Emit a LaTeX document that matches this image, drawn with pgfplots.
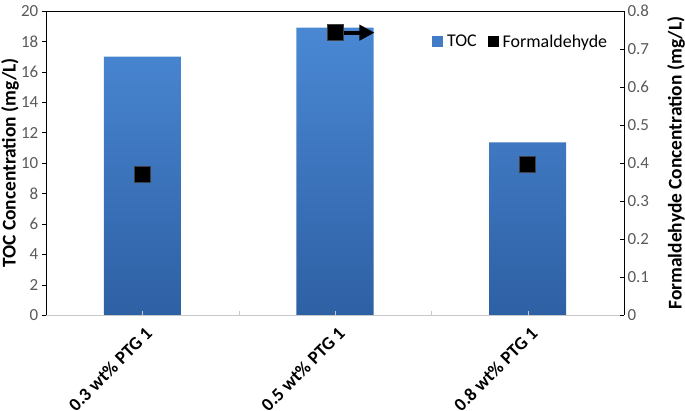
\documentclass[border=0pt]{standalone}
\usepackage{fontspec}
\setmainfont{Carlito}
\usepackage{pgfplots}
\usepackage{pgfplotstable}
\pgfplotsset{compat=1.18}
\usetikzlibrary{arrows.meta}

\definecolor{tickgray}{RGB}{89,89,89}
\definecolor{bartop}{RGB}{74,136,212}
\definecolor{barbot}{RGB}{46,96,164}
\definecolor{gridgray}{RGB}{200,200,200}

% x: category index, toc in mg/L (left axis), form in mg/L (right axis)
\pgfplotstableread{
x toc form
0 17.0 0.371
1 18.9 0.743
2 11.35 0.395
}\datatable

\begin{document}
\begin{tikzpicture}
\pgfplotsset{
  base/.style={
    scale only axis, width=578bp, height=304bp,
    xmin=-0.5, xmax=2.5,
    /pgf/number format/assume math mode=true,
    ticklabel style={font=\fontsize{17}{19}\selectfont, text=tickgray},
    label style={font=\bfseries\fontsize{19.5}{22}\selectfont},
  }
}
\useasboundingbox (-46bp,-96bp) rectangle (639bp,315bp);

\begin{axis}[base,
  axis y line*=left, axis x line*=bottom,
  x axis line style={gridgray, -},
  y axis line style={black, -},
  ymin=0, ymax=20, ytick={0,2,...,20},
  ytick align=outside, ytick style={black},
  ylabel={TOC Concentration (mg/L)},
  ylabel style={at={(axis description cs:-0.062,0.5)}, anchor=center},
  xtick={0,1,2}, xtick align=inside,
  xtick style={gridgray},
  extra x ticks={0.5,1.5}, extra x tick labels={},
  extra x tick style={xtick align=inside, xtick style={gridgray}},
  xticklabels={0.3 wt\% PTG 1, 0.5 wt\% PTG 1, 0.8 wt\% PTG 1},
  xticklabel style={xshift=9bp, yshift=-13bp, rotate=45, anchor=east,
    font=\bfseries\fontsize{18.5}{21}\selectfont, text=black},
  axis on top,
]
\addplot[ybar, bar width=0.4, draw=none, top color=bartop, bottom color=barbot]
  table[x=x, y=toc] {\datatable};
\end{axis}

\begin{axis}[base,
  axis y line*=right, axis x line*=top,
  axis line style={black, -},
  xtick=\empty,
  ymin=0, ymax=0.8, ytick={0,0.1,0.2,0.3,0.4,0.5,0.6,0.7,0.8},
  yticklabel style={/pgf/number format/.cd, fixed, precision=1},
  ytick align=inside, ytick style={black},
  ylabel={Formaldehyde Concentration (mg/L)},
  ylabel style={at={(axis description cs:1.09,0.5)}, anchor=center},
  legend style={draw=none, fill=none, at={(0.978,0.935)}, anchor=north east,
    legend columns=2, font=\fontsize{18}{20}\selectfont, inner xsep=2bp,
    /tikz/every even column/.append style={column sep=9bp}},
]
\addlegendimage{legend image code/.code={\path[draw=none, fill=bartop!70!barbot] (0bp,-5.5bp) rectangle (11bp,5.5bp); \path[draw=none, fill=none] (0bp,0bp) -- (13bp,0bp);}}
\addlegendentry{TOC}
\draw[-{Triangle[length=15bp,width=15bp]}, line width=4bp] (axis cs:1,0.743) -- (axis cs:1.205,0.743);
\addplot[only marks, mark=square*, mark size=8bp,
  mark options={fill=black, draw=black!75, line width=0.8bp},
  legend image code/.code={\path[draw=none, fill=black] (0bp,-5.5bp) rectangle (11bp,5.5bp); \path[draw=none, fill=none] (0bp,0bp) -- (13bp,0bp);}]
  table[x=x, y=form] {\datatable};
\addlegendentry{Formaldehyde}
\end{axis}
\end{tikzpicture}
\end{document}
